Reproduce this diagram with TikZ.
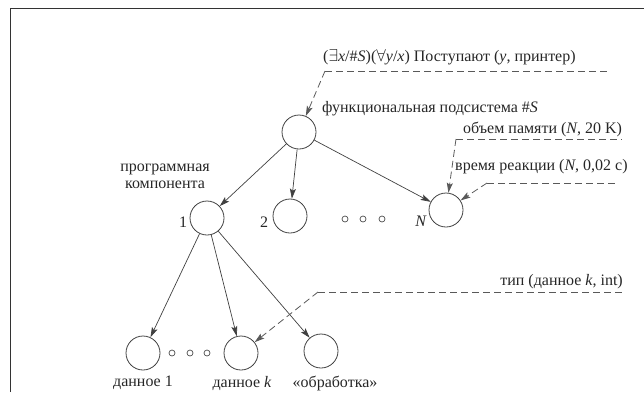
\documentclass[tikz,border=0pt]{standalone}
\usepackage{fontspec}
\setmainfont{Liberation Serif}
\usetikzlibrary{arrows.meta}
\begin{document}
\begin{tikzpicture}[x=1pt,y=-1pt,
  every node/.style={font=\fontsize{16}{17}\selectfont, text=black!85, inner sep=0pt},
  vert/.style={circle, draw=black!75, line width=0.8pt, minimum size=34pt},
  edge/.style={draw=black!75, line width=0.7pt, -{Stealth[length=10pt,width=6pt,inset=2pt]}},
  note/.style={draw=black!65, line width=0.8pt, dash pattern=on 7pt off 4pt},
  notearrow/.style={note, -{Stealth[length=10pt,width=6pt,inset=2pt]}},
  gapdot/.style={circle, draw=black!70, line width=0.7pt, minimum size=6pt},
  frame/.style={line width=1.6pt, draw=black!80}]
\useasboundingbox (0,0) rectangle (644,392);

% frame edges
\draw[frame] (10.5,392) -- (10.5,8.5) -- (644,8.5);

% tree vertices
\node[vert] (root) at (299,132) {};
\node[vert] (c1) at (207,218) {};
\node[vert] (c2) at (290,216) {};
\node[vert] (cN) at (446,210) {};
\node[vert] (d1) at (143,353) {};
\node[vert] (dk) at (241,353) {};
\node[vert] (dp) at (321,351) {};

% ellipsis dots
\node[gapdot] (g1) at (345,219) {};
\node[gapdot] (g2) at (363,219) {};
\node[gapdot] (g3) at (382,219) {};
\node[gapdot] (h1) at (172,353) {};
\node[gapdot] (h2) at (190,353) {};
\node[gapdot] (h3) at (207,353) {};

% tree edges
\draw[edge] (root) -- (c1);
\draw[edge] (root) -- (c2);
\draw[edge] (root) -- (cN);
\draw[edge] (c1) -- (d1);
\draw[edge] (c1) -- (dk);
\draw[edge] (c1) -- (dp);

% vertex labels
\node (l1) at (183,222) {1};
\node (l2) at (264,222) {2};
\node (lN) at (421,221) {\textit{N}};
\node[align=center] (comp) at (165,176) {программная\\компонента};
\node (ld1) at (143,383) {данное 1};
\node (ldk) at (242,383) {данное \textit{k}};
\node (ldp) at (335,383) {«обработка»};
\node[anchor=base west] (fs) at (322,112) {функциональная подсистема \#\textit{S}};

% annotations
\node[anchor=base west] (q) at (323,61) {($\exists$\textit{x}/\#\textit{S})($\forall$\textit{y}/\textit{x}) Поступают (\textit{y}, принтер)};
\coordinate (qL) at (325,71);
\coordinate (qR) at (610,71);
\draw[note] (qL) -- (qR);
\draw[notearrow] (qL) -- (root);

\node[anchor=base west] (mem) at (463,133) {объем памяти (\textit{N}, 20 K)};
\coordinate (mL) at (456,139);
\coordinate (mR) at (622,139);
\draw[note] (mL) -- (mR);
\draw[notearrow] (mL) -- (cN);

\node[anchor=base west] (rt) at (455,170) {время реакции (\textit{N}, 0,02 с)};
\coordinate (rL) at (487,183);
\coordinate (rR) at (615,183);
\draw[note] (rL) -- (rR);
\draw[notearrow] (rL) -- (cN);

\node[anchor=base east] (ty) at (623,285) {тип (данное \textit{k}, int)};
\coordinate (tL) at (318,292);
\coordinate (tR) at (623,292);
\draw[note] (tL) -- (tR);
\draw[notearrow] (tL) -- (dk);
\end{tikzpicture}
\end{document}
